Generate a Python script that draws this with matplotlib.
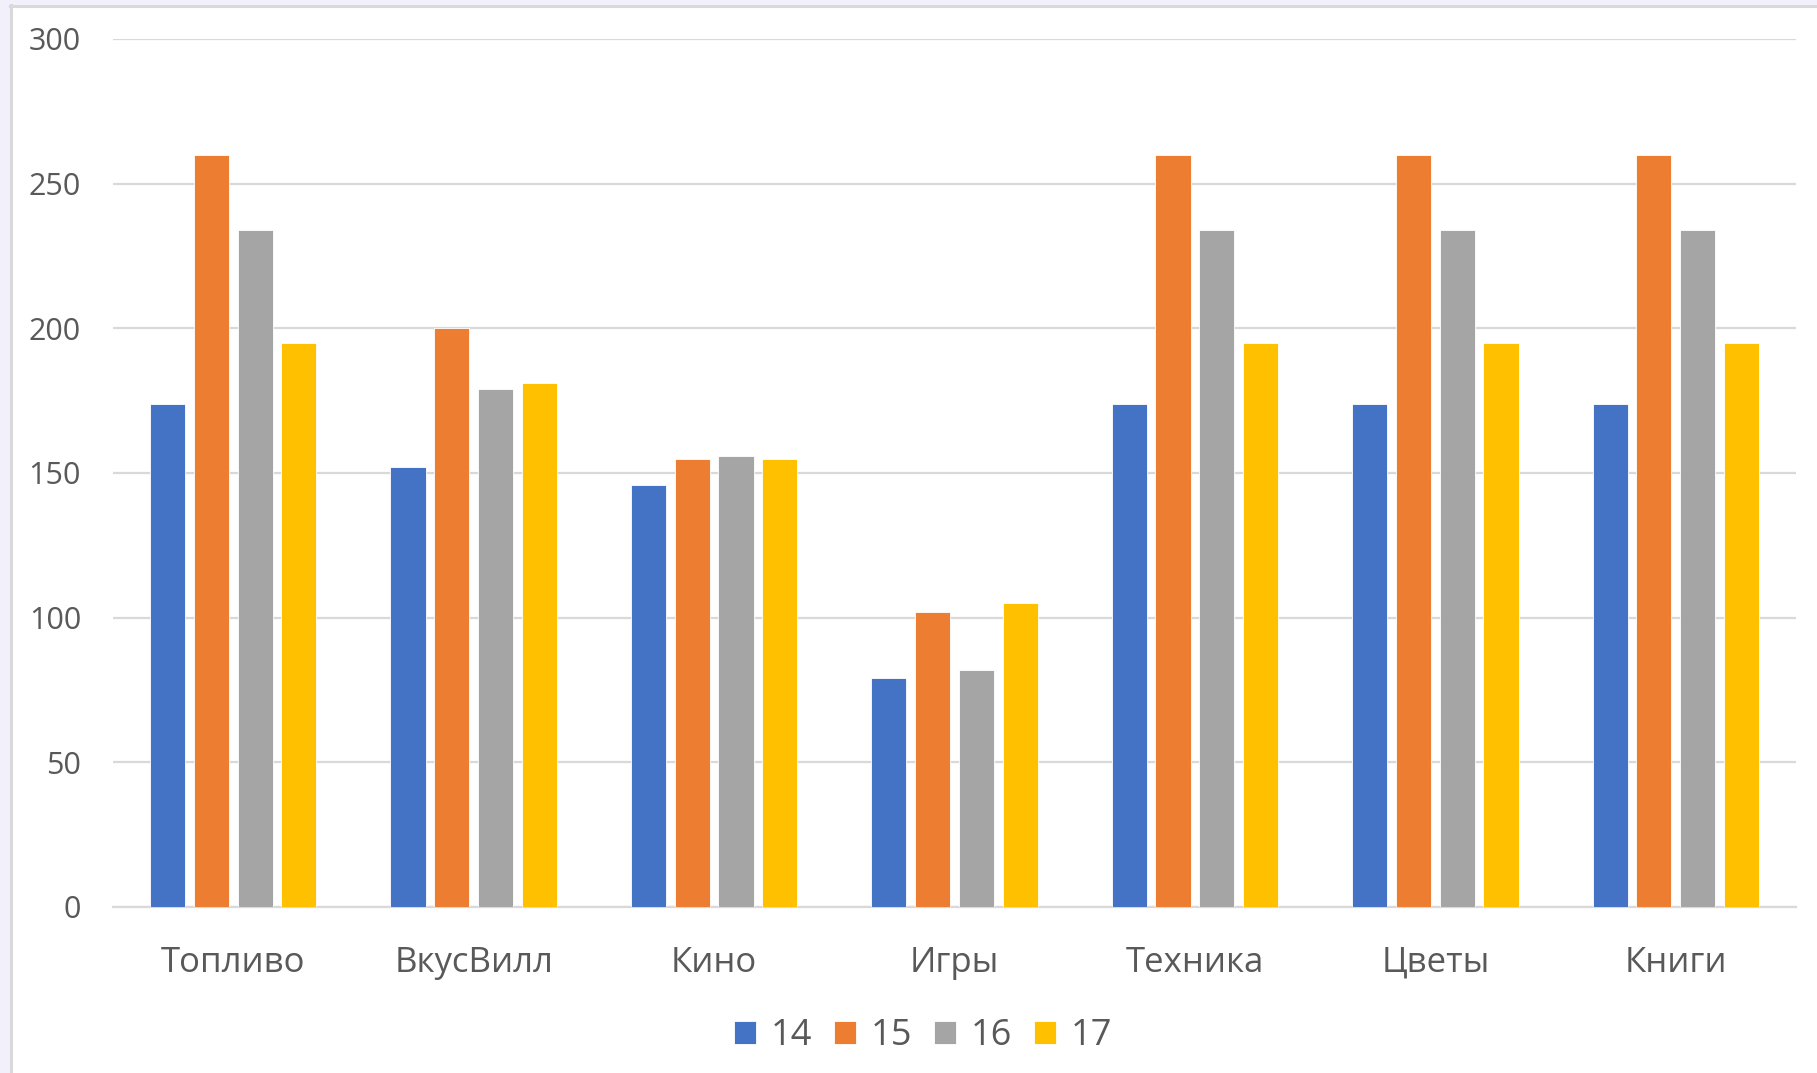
import numpy as np
import matplotlib.pyplot as plt
from matplotlib.patches import Rectangle

categories = ['Топливо', 'ВкусВилл', 'Кино', 'Игры', 'Техника', 'Цветы', 'Книги']
series_names = ['14', '15', '16', '17']
s14 = [174, 152, 146, 79, 174, 174, 174]
s15 = [260, 200, 155, 102, 260, 260, 260]
s16 = [234, 179, 156, 82, 234, 234, 234]
s17 = [195, 181, 155, 105, 195, 195, 195]
colors = ['#4472C4', '#ED7D31', '#A5A5A5', '#FFC000']

plt.rcParams['font.family'] = ['Open Sans', 'DejaVu Sans']

W, H = 1817, 1073
fig = plt.figure(figsize=(W / 100, H / 100), dpi=100)
fig.patch.set_facecolor('white')

# lavender strips + light frame around the chart area
fig.patches.append(Rectangle((0, 0), 10 / W, 1, transform=fig.transFigure,
                             facecolor='#F2F0FB', edgecolor='none', zorder=0))
fig.patches.append(Rectangle((0, 1 - 5 / H), 1, 5 / H, transform=fig.transFigure,
                             facecolor='#F2F0FB', edgecolor='none', zorder=0))
fig.add_artist(plt.Line2D([10.5 / W, 10.5 / W], [0, 1 - 5 / H], transform=fig.transFigure,
                          color='#D9D9D9', lw=2.2))
fig.add_artist(plt.Line2D([10 / W, 1], [1 - 5.5 / H, 1 - 5.5 / H], transform=fig.transFigure,
                          color='#D9D9D9', lw=2.2))

ax = fig.add_axes([113 / W, 1 - 907 / H, (1796 - 113) / W, (907 - 39) / H])

x = np.arange(len(categories))
pitch = 0.182
width = 0.146
for i, (name, vals) in enumerate(zip(series_names, [s14, s15, s16, s17])):
    ax.bar(x + (i - 1.5) * pitch, vals, width, color=colors[i], label=name,
           edgecolor='white', linewidth=0.6, zorder=3)

ax.set_xlim(-0.5, len(categories) - 0.5)
ax.set_ylim(0, 300)
ax.set_yticks(range(0, 301, 50))
ax.set_xticks(x)
ax.set_xticklabels(categories)
ax.yaxis.grid(True, color='#D9D9D9', linewidth=1.6, zorder=0)
ax.set_axisbelow(True)
for side in ['top', 'right', 'left']:
    ax.spines[side].set_visible(False)
ax.spines['bottom'].set_color('#D9D9D9')
ax.spines['bottom'].set_linewidth(1.6)
ax.tick_params(axis='both', length=0, colors='#595959')
ax.tick_params(axis='y', labelsize=22, pad=23)
ax.tick_params(axis='x', labelsize=25, pad=28)

fig.legend(loc='center', bbox_to_anchor=(923 / W, 1 - 1036 / H), ncol=4, frameon=False,
           fontsize=26, labelcolor='#595959', handlelength=0.62, handleheight=0.62,
           handletextpad=0.4, columnspacing=0.6)

fig.savefig('out.png', dpi=100, facecolor=fig.get_facecolor())
